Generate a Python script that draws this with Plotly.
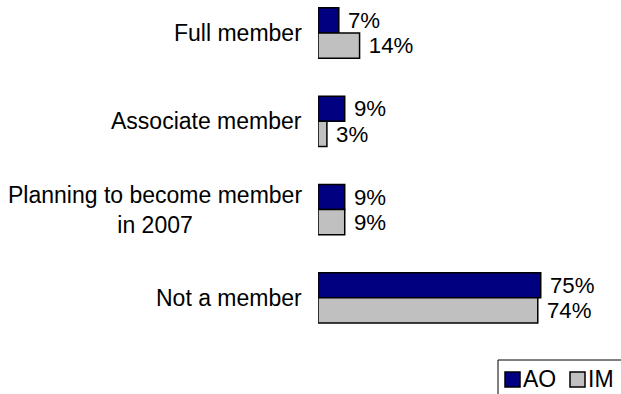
import plotly.graph_objects as go

categories = ["Full member", "Associate member", "Planning to become member<br>in 2007", "Not a member"]
ao_values = [7, 9, 9, 75]
im_values = [14, 3, 9, 74]
series_names = ["AO", "IM"]
series_colors = ["#000080", "#C0C0C0"]

FONT = "Liberation Sans, Arial, sans-serif"
FS = 23

W, H = 621, 394
ML, MR, MT, MB = 318, 6, 0, 52
PW, PH = W - ML - MR, H - MT - MB


def px_x(p):
    return (p - ML) / PW


def px_y(p):
    return (H - MB - p) / PH


fig = go.Figure()
for name, vals, color in zip(series_names, [ao_values, im_values], series_colors):
    fig.add_trace(go.Bar(
        y=list(range(len(categories))), x=vals, orientation="h", name=name,
        marker=dict(color=color, line=dict(color="black", width=1.5)),
        text=[f" {v}%" for v in vals], textposition="outside",
        textfont=dict(family=FONT, size=FS, color="black"),
        cliponaxis=False, showlegend=False,
    ))

for i, c in enumerate(categories):
    fig.add_annotation(x=0, xref="paper", xanchor="right", xshift=-14,
                       y=i, yref="y", yanchor="middle", text=c, align="center",
                       showarrow=False, font=dict(family=FONT, size=FS, color="black"))

# legend box (extends past the right and bottom edges as in the reference)
fig.add_shape(type="rect", xref="paper", yref="paper",
              x0=px_x(498), x1=px_x(640), y0=px_y(360), y1=px_y(420),
              line=dict(color="black", width=1), fillcolor="white", layer="above")
for i, (name, color) in enumerate(zip(series_names, series_colors)):
    x0 = 505 + i * 65
    fig.add_shape(type="rect", xref="paper", yref="paper",
                  x0=px_x(x0), x1=px_x(x0 + 15), y0=px_y(372), y1=px_y(387),
                  line=dict(color="black", width=1.5), fillcolor=color, layer="above")
    fig.add_annotation(x=px_x(x0 + 16), xref="paper", xanchor="left",
                       y=px_y(379), yref="paper", yanchor="middle", text=name,
                       showarrow=False, font=dict(family=FONT, size=FS, color="black"))

fig.update_layout(
    width=W, height=H,
    margin=dict(l=ML, r=MR, t=MT, b=MB, autoexpand=False),
    paper_bgcolor="white", plot_bgcolor="white",
    barmode="group", bargap=0.43, bargroupgap=0,
    font=dict(family=FONT, size=FS, color="black"),
    xaxis=dict(range=[0, 100], visible=False),
    yaxis=dict(range=[3.5, -0.374], showticklabels=False, showgrid=False,
               zeroline=False, showline=False, ticks=""),
    showlegend=False,
)

fig.write_html("out.html", config={"displayModeBar": False},
               post_script="document.body.style.margin='0';document.body.style.overflow='hidden';")
